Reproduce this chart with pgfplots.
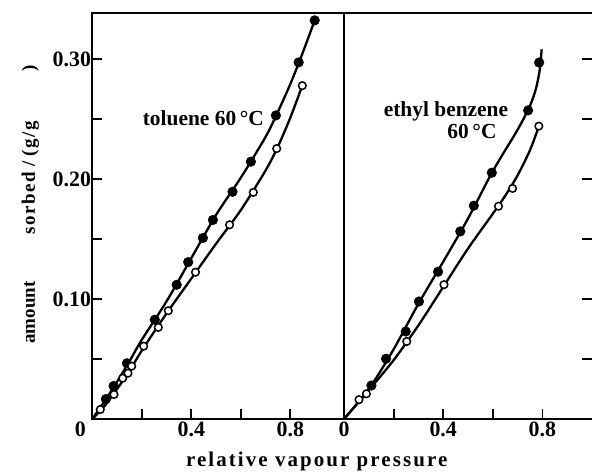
\documentclass[border=0pt]{standalone}
\usepackage{fontspec}
\setmainfont{Liberation Serif}
\usepackage{pgfplots}
\usepackage{pgfplotstable}
\pgfplotsset{compat=1.18}

% ---- measured points ----
\pgfplotstableread{
x y
0.0549 0.0166
0.0861 0.0275
0.1398 0.0464
0.2525 0.0827
0.3410 0.1118
0.3875 0.1307
0.4469 0.1508
0.4873 0.1658
0.5665 0.1893
0.6408 0.2144
0.7418 0.2529
0.8339 0.2971
0.8986 0.3321
}\tolF
\pgfplotstableread{
x y
0.0323 0.0079
0.0877 0.0204
0.1228 0.0340
0.1442 0.0382
0.1592 0.0440
0.2077 0.0607
0.2667 0.0763
0.3071 0.0902
0.4170 0.1223
0.5547 0.1618
0.6505 0.1888
0.7451 0.2253
0.8485 0.2777
}\tolO
\pgfplotstableread{
x y
0.1106 0.0279
0.1695 0.0502
0.2490 0.0729
0.3023 0.0979
0.3793 0.1227
0.4689 0.1563
0.5234 0.1777
0.5960 0.2052
0.7425 0.2571
0.7870 0.2970
}\ebF
\pgfplotstableread{
x y
0.0605 0.0161
0.0904 0.0210
0.2530 0.0646
0.4031 0.1119
0.6231 0.1773
0.6796 0.1921
0.7857 0.2440
}\ebO
% ---- fitted curves ----
\pgfplotstableread{
x y
0 0
0.05 0.015
0.10 0.031
0.15 0.048
0.20 0.066
0.30 0.098
0.40 0.134
0.50 0.170
0.60 0.201
0.70 0.235
0.75 0.256
0.80 0.279
0.85 0.305
0.90 0.333
}\tolFl
\pgfplotstableread{
x y
0 0
0.05 0.011
0.10 0.025
0.15 0.040
0.20 0.057
0.30 0.088
0.40 0.117
0.50 0.146
0.60 0.174
0.70 0.207
0.75 0.227
0.80 0.251
0.849 0.278
}\tolOl
\pgfplotstableread{
x y
0 0
0.10 0.025
0.20 0.058
0.30 0.096
0.40 0.131
0.50 0.167
0.60 0.2065
0.70 0.241
0.75 0.261
0.775 0.276
0.790 0.292
0.797 0.308
}\ebFl
\pgfplotstableread{
x y
0 0
0.10 0.024
0.20 0.049
0.30 0.078
0.40 0.110
0.50 0.142
0.60 0.171
0.65 0.186
0.70 0.203
0.75 0.224
0.786 0.244
}\ebOl

\begin{document}
\begin{tikzpicture}
\useasboundingbox (-92.3bp,-57bp) rectangle (499.7bp,419bp);
\pgfplotsset{
  panel/.style={
    scale only axis, height=405.7bp, ymin=0, ymax=0.338,
    axis line style={line width=2bp},
    tick align=inside, major tick length=10bp, minor tick length=10bp,
    every tick/.style={black, line width=1.8bp},
    tick label style={font=\fontsize{22}{26}\selectfont\bfseries},
    xticklabel style={inner ysep=3bp},
    yticklabel style={inner xsep=1bp},
    /pgf/number format/assume math mode=true,
    clip=false,
  },
  ln/.style={black, line width=2.3bp, no marks, smooth, tension=0.5},
  fil/.style={black, only marks, mark=*, mark size=4.8bp, mark options={fill=black, draw=black, line width=0.5bp}},
  opn/.style={black, only marks, mark=*, mark size=3.8bp, mark options={fill=white, draw=black, line width=1.5bp}},
}
\begin{axis}[panel, name=left, at={(0,0)}, anchor=south west,
  width=251.7bp, xmin=0, xmax=1.017,
  xtick={0.2,0.4,0.6,0.8}, xticklabels={,0.4,,0.8}, xtick pos=bottom,
  extra x ticks={0}, extra x tick labels={0},
  extra x tick style={major tick length=0pt, tick label style={xshift=-12bp}},
  ytick={0.1,0.2,0.3}, yticklabels={0.10,0.20,0.30},
  minor ytick={0.05,0.15,0.25}, ytick pos=left]
\addplot[ln] table {\tolFl};
\addplot[ln] table {\tolOl};
\addplot[fil] table {\tolF};
\addplot[opn] table {\tolO};
\end{axis}
\begin{axis}[panel, name=right, at={(left.south east)}, anchor=south west,
  width=248bp, xmin=0, xmax=1.0,
  separate axis lines, y axis line style={draw=none},
  xtick={0,0.2,0.4,0.6,0.8}, xticklabels={0,,0.4,,0.8}, xtick pos=bottom,
  ytick={0.05,0.1,0.15,0.2,0.25,0.3}, yticklabels={}, ytick pos=right]
\addplot[ln] table {\ebFl};
\addplot[ln] table {\ebOl};
\addplot[fil] table {\ebF};
\addplot[opn] table {\ebO};
\end{axis}
\node[anchor=base west, font=\fontsize{21.5}{25}\selectfont\bfseries] at (47bp,293bp) {toluene 60\,°C};
\node[anchor=base east, font=\fontsize{21.5}{25}\selectfont\bfseries] at (419.4bp,302.3bp) {ethyl benzene};
\node[anchor=base east, font=\fontsize{21.5}{25}\selectfont\bfseries] at (407.7bp,280bp) {60\,°C};
\node[anchor=base, font=\fontsize{21}{25}\selectfont\bfseries\addfontfeatures{LetterSpace=10}] at (224.4bp,-47bp) {relative vapour pressure};
\node[anchor=base west, rotate=90, font=\fontsize{19}{23}\selectfont\bfseries] at (-57.3bp,72bp) {amount\hspace{47bp}{\addfontfeatures{LetterSpace=8}sorbed\;/\;(g/g}\hspace{50bp})};
\end{tikzpicture}
\end{document}
